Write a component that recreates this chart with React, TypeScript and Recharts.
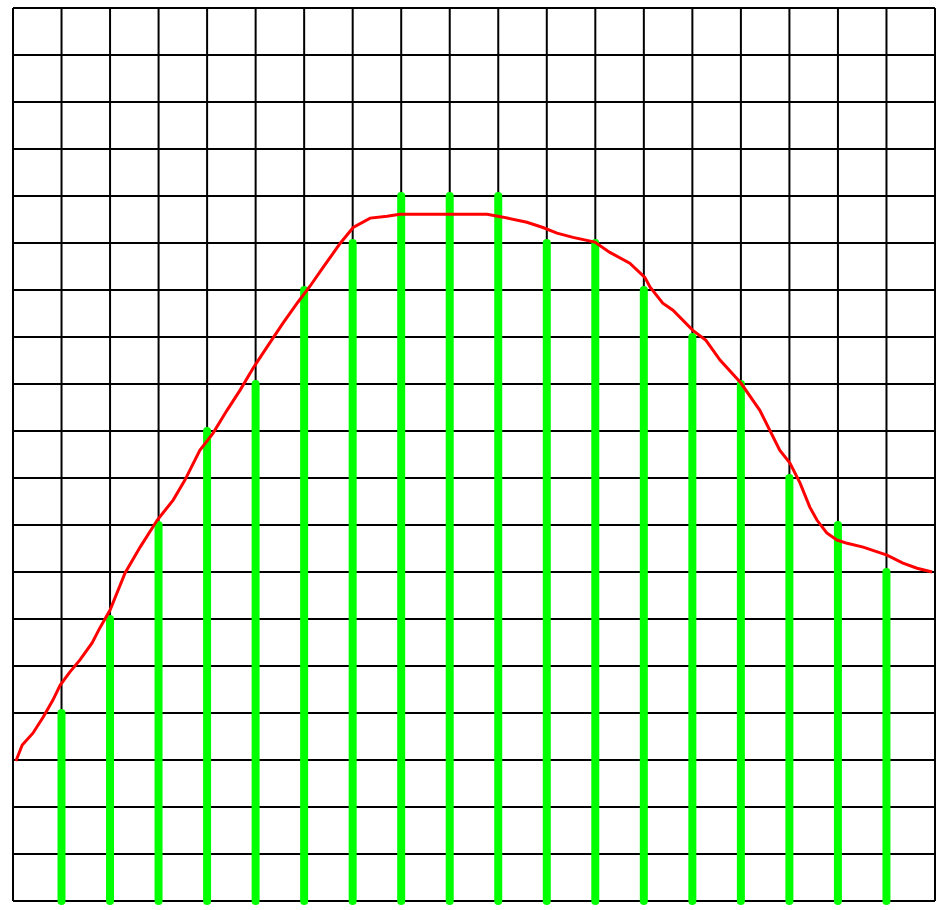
import React from 'react';
import { ComposedChart, Bar, Line, XAxis, YAxis, CartesianGrid } from 'recharts';

// grid runs 0..19 on both axes
const gridTicks = [0, 1, 2, 3, 4, 5, 6, 7, 8, 9, 10, 11, 12, 13, 14, 15, 16, 17, 18, 19];

// green bars
const barX = [1, 2, 3, 4, 5, 6, 7, 8, 9, 10, 11, 12, 13, 14, 15, 16, 17, 18];
const barValues = [4, 6, 8, 10, 11, 13, 14, 15, 15, 15, 14, 14, 13, 12, 11, 9, 8, 7];

// red hand-drawn curve, read point by point
const curveX = [
  0.06, 0.19, 0.41, 0.62, 0.82, 0.97, 1.17, 1.38, 1.63, 1.79, 2.0, 2.31, 2.62, 2.97, 3.3, 3.54,
  3.85, 4.12, 4.41, 4.68, 4.95, 5.23, 5.56, 5.87, 6.12, 6.39, 6.74, 7.01, 7.36, 7.71, 7.97, 8.86,
  9.77, 10.1, 10.59, 10.92, 11.21, 11.54, 11.99, 12.3, 12.71, 13.02, 13.13, 13.39, 13.6, 14.01,
  14.28, 14.57, 15.0, 15.39, 15.8, 16.01, 16.22, 16.42, 16.57, 16.77, 16.98, 17.19, 17.52, 18.01,
  18.34, 18.63, 18.94,
];
const curveY = [
  2.98, 3.32, 3.57, 3.91, 4.27, 4.59, 4.87, 5.13, 5.49, 5.81, 6.19, 6.98, 7.53, 8.1, 8.53, 8.95,
  9.59, 9.95, 10.44, 10.87, 11.34, 11.78, 12.29, 12.74, 13.08, 13.48, 13.99, 14.33, 14.53, 14.57,
  14.61, 14.61, 14.61, 14.55, 14.44, 14.33, 14.21, 14.12, 14.02, 13.8, 13.57, 13.27, 13.06, 12.72,
  12.57, 12.14, 11.93, 11.51, 11.02, 10.44, 9.59, 9.32, 8.89, 8.38, 8.1, 7.83, 7.68, 7.61, 7.53,
  7.36, 7.19, 7.08, 7.0,
];

const barData = barX.map((x, i) => ({ x, v: barValues[i] }));
const curveData = curveX.map((x, i) => ({ x, y: curveY[i] }));

const StickBar = (props: any) => {
  const { x, y, width, height } = props;
  const cx = x + width / 2;
  return (
    <line
      x1={cx}
      x2={cx}
      y1={y}
      y2={y + height}
      stroke="#00ff00"
      strokeWidth={8}
      strokeLinecap="round"
    />
  );
};

export default function App() {
  return (
    <div style={{ position: 'absolute', left: 0, top: 0, width: 942, height: 910, background: '#fff' }}>
      <ComposedChart
        width={942}
        height={910}
        data={barData}
        margin={{ top: 8, right: 7, bottom: 9, left: 13 }}
      >
        <CartesianGrid stroke="#000" strokeWidth={2} strokeOpacity={1} />
        <XAxis
          dataKey="x"
          type="number"
          domain={[0, 19]}
          ticks={gridTicks}
          interval={0}
          hide
        />
        <YAxis type="number" domain={[0, 19]} ticks={gridTicks} interval={0} hide />
        <Line
          data={curveData}
          dataKey="y"
          type="linear"
          stroke="#ff0000"
          strokeWidth={3}
          dot={false}
          activeDot={false}
          isAnimationActive={false}
        />
        <Bar dataKey="v" barSize={8} shape={<StickBar />} isAnimationActive={false} />
      </ComposedChart>
    </div>
  );
}
